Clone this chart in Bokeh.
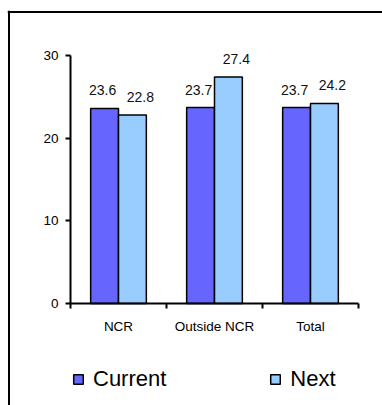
from bokeh.plotting import figure
from bokeh.models import (ColumnDataSource, Range1d, FixedTicker, Legend, LegendItem, Span)
from bokeh.transform import dodge
from bokeh.core.properties import value
from bokeh.embed import file_html
from bokeh.resources import INLINE

# ---- data ----
categories = ["NCR", "Outside NCR", "Total"]
current = [23.6, 23.7, 23.7]
next_vals = [22.8, 27.4, 24.2]
y_ticks = [0, 10, 20, 30]

FONT = "Liberation Sans"
C_CUR = "#6666FF"
C_NEXT = "#99CCFF"

pos = [i + 0.5 for i in range(len(categories))]
src = ColumnDataSource(dict(
    pos=pos,
    cat=categories,
    current=current,
    nxt=next_vals,
    cur_lbl=[f"{v:.1f}" for v in current],
    nxt_lbl=[f"{v:.1f}" for v in next_vals],
))

W, H = 382, 405
# frame covers the boxed area; category unit = 96 px, value unit = 248/30 px
PX_X = 96.0
PX_Y = 248 / 30.0
x_lo = -(70 - 7) / PX_X
x_hi = (W - 70) / PX_X
y_lo = -(H - 303) / PX_Y
y_hi = (303 - 10) / PX_Y

p = figure(width=W, height=H, output_backend="svg", toolbar_location=None,
           x_range=Range1d(x_lo, x_hi), y_range=Range1d(y_lo, y_hi),
           min_border_left=7, min_border_right=0, min_border_top=10,
           min_border_bottom=0)
p.outline_line_color = None
p.xgrid.visible = False
p.ygrid.visible = False
p.background_fill_color = "white"
p.border_fill_color = "white"

# box border (left and top edges visible)
p.add_layout(Span(location=x_lo + 1.5 / PX_X, dimension="height",
                  line_color="black", line_width=2))
p.add_layout(Span(location=y_hi - 1.5 / PX_Y, dimension="width",
                  line_color="black", line_width=2))

bw = 0.29
off = 0.145
r_cur = p.vbar(x=dodge("pos", -off), top="current", width=bw, source=src,
               fill_color=C_CUR, line_color="black", line_width=1.5)
r_nxt = p.vbar(x=dodge("pos", off), top="nxt", width=bw, source=src,
               fill_color=C_NEXT, line_color="black", line_width=1.5)

p.text(x=dodge("pos", -off), y="current", text="cur_lbl", source=src,
       text_align="center", text_baseline="alphabetic", y_offset=-18, x_offset=-2,
       text_font=value(FONT), text_font_size="14px", text_color="#111111")
p.text(x=dodge("pos", off), y="nxt", text="nxt_lbl", source=src,
       text_align="center", text_baseline="alphabetic", y_offset=-18, x_offset=8,
       text_font=value(FONT), text_font_size="14px", text_color="#111111")

# x axis: labels at centres, ticks at category boundaries
xa = p.xaxis[0]
xa.fixed_location = 0
xa.bounds = (0, len(categories))
xa.ticker = FixedTicker(ticks=pos, minor_ticks=list(range(len(categories) + 1)))
xa.major_label_overrides = {p_: c for p_, c in zip(pos, categories)}
xa.major_tick_line_color = None
xa.minor_tick_line_color = "black"
xa.minor_tick_line_width = 2
xa.minor_tick_out = 5
xa.minor_tick_in = 0
xa.axis_line_width = 2
xa.axis_line_color = "black"
xa.major_label_text_font = FONT
xa.major_label_text_font_size = "13.5px"
xa.major_label_text_color = "black"
xa.major_label_standoff = 9

ya = p.yaxis[0]
ya.fixed_location = 0
ya.bounds = (0, 30)
ya.ticker = FixedTicker(ticks=y_ticks)
ya.minor_tick_line_color = None
ya.major_tick_out = 5
ya.major_tick_in = 0
ya.major_tick_line_width = 2
ya.axis_line_width = 2
ya.axis_line_color = "black"
ya.major_label_text_font = FONT
ya.major_label_text_font_size = "13.5px"
ya.major_label_text_color = "black"
ya.major_label_standoff = 7

legend = Legend(items=[LegendItem(label="Current", renderers=[r_cur]),
                       LegendItem(label="Next", renderers=[r_nxt])],
                orientation="horizontal", location=(65, 13),
                padding=0, margin=0, border_line_color=None,
                background_fill_alpha=0,
                label_text_font=FONT, label_text_font_size="22px",
                label_text_color="black",
                glyph_width=12, glyph_height=12, label_standoff=9,
                spacing=103)
p.add_layout(legend, "center")

open("out.html", "w").write(file_html(p, INLINE))
